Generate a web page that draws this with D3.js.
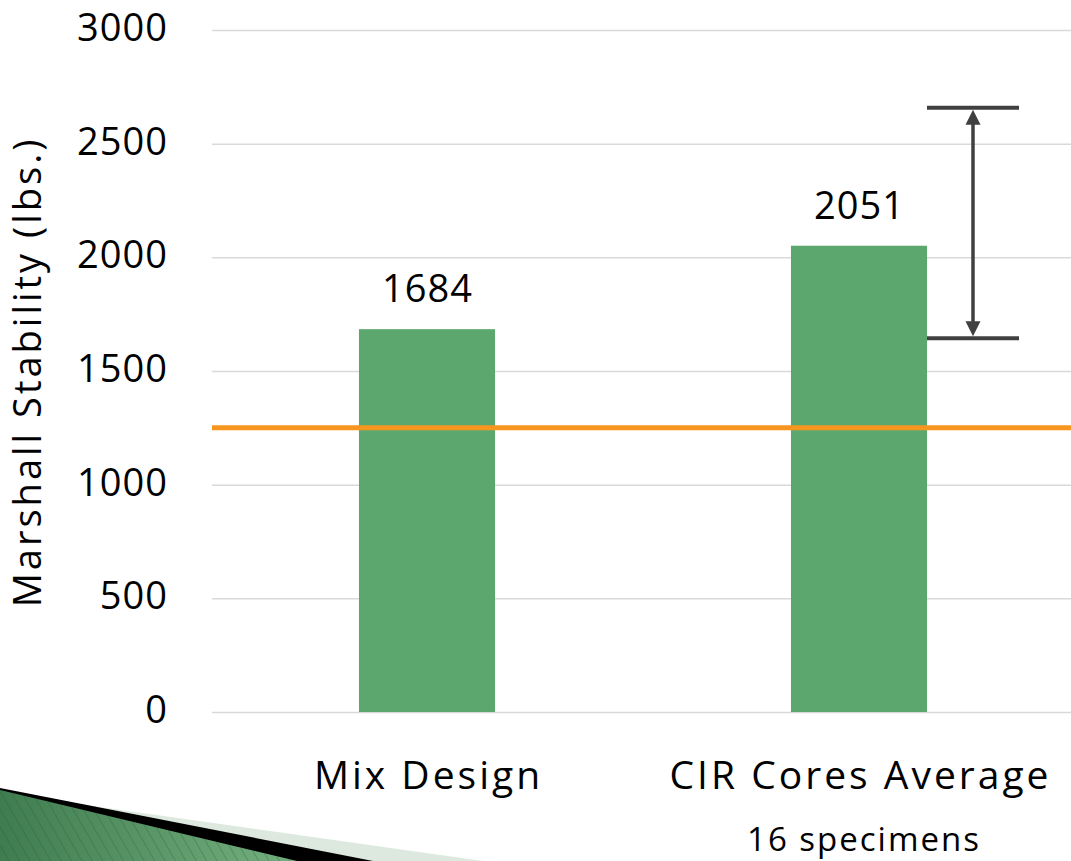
<!DOCTYPE html>
<html>
<head>
<meta charset="utf-8">
<script src="https://cdn.jsdelivr.net/npm/d3@7"></script>
<style>
  body { margin: 0; background: #fff; }
  svg { display: block; }
  text { font-family: "Open Sans", sans-serif; fill: #000; }
</style>
</head>
<body>
<svg id="chart" width="1071" height="861"></svg>
<script>
// Marshall stability: mix design vs. average of CIR field cores
const categories = ["Mix Design", "CIR Cores Average"];
const subLabels = ["", "16 specimens"];
const stability = [1684, 2051];
const rangeHigh = [null, 2658];
const rangeLow = [null, 1644];
const minimumRequired = 1250;
const yTicks = [0, 500, 1000, 1500, 2000, 2500, 3000];

const svg = d3.select("#chart");
const W = 1071, H = 861;

// ---- decorative swoosh in the lower-left corner ----
const defs = svg.append("defs");
const grad = defs.append("linearGradient").attr("id", "swooshGrad")
  .attr("x1", "0").attr("y1", "0").attr("x2", "1").attr("y2", "0");
grad.append("stop").attr("offset", "0").attr("stop-color", "#3f7c4f");
grad.append("stop").attr("offset", "1").attr("stop-color", "#74b07f");
const pat = defs.append("pattern").attr("id", "swooshStripes")
  .attr("patternUnits", "userSpaceOnUse").attr("width", 9).attr("height", 9)
  .attr("patternTransform", "rotate(-30)");
pat.append("rect").attr("width", 9).attr("height", 9).attr("fill", "none");
pat.append("line").attr("x1", 0).attr("y1", 0).attr("x2", 0).attr("y2", 9)
  .attr("stroke", "#2f5e3b").attr("stroke-opacity", 0.35).attr("stroke-width", 2);

const swoosh = svg.append("g");
swoosh.append("polygon").attr("points", `0,793 483,${H} 0,${H}`).attr("fill", "#dde9de");
swoosh.append("polygon").attr("points", `0,788 373,${H} 0,${H}`).attr("fill", "#000");
swoosh.append("polygon").attr("points", `0,790 297,${H} 0,${H}`).attr("fill", "url(#swooshGrad)");
swoosh.append("polygon").attr("points", `0,790 297,${H} 0,${H}`).attr("fill", "url(#swooshStripes)");

// ---- scales ----
const y = d3.scaleLinear().domain([0, 3000]).range([712, 30]);
const x = d3.scaleBand().domain(categories).range([211, 1075]).padding(0);
const barW = x.bandwidth() * 0.315;
const cx = c => x(c) + x.bandwidth() / 2;

// ---- gridlines and tick labels ----
const yAxis = d3.axisLeft(y).tickValues(yTicks).tickSize(-(W - 212)).tickPadding(44)
  .tickFormat(d3.format("d"));
const ga = svg.append("g").attr("transform", "translate(212,0)").call(yAxis);
ga.select(".domain").remove();
ga.selectAll(".tick line").attr("stroke", "#d9d9d9").attr("stroke-width", 1.5);
ga.selectAll(".tick text")
  .attr("font-family", "Open Sans, sans-serif")
  .attr("font-size", 38).attr("letter-spacing", 1).attr("fill", "#000")
  .attr("dy", "0.28em");

// ---- bars ----
const data = categories.map((c, i) => ({ c, v: stability[i], hi: rangeHigh[i], lo: rangeLow[i], sub: subLabels[i] }));
svg.append("g").selectAll("rect").data(data).join("rect")
  .attr("x", d => cx(d.c) - barW / 2)
  .attr("width", barW)
  .attr("y", d => y(d.v))
  .attr("height", d => y(0) - y(d.v))
  .attr("fill", "#5ba76d");

// value labels
svg.append("g").selectAll("text").data(data).join("text")
  .attr("x", d => cx(d.c) + 0.5)
  .attr("y", d => y(d.v) - 27)
  .attr("text-anchor", "middle")
  .attr("font-size", 38).attr("letter-spacing", 1)
  .text(d => d.v);

// ---- minimum requirement line ----
svg.append("line")
  .attr("x1", 212).attr("x2", W)
  .attr("y1", y(minimumRequired)).attr("y2", y(minimumRequired))
  .attr("stroke", "#f7961f").attr("stroke-width", 5);

// ---- specimen range (double-headed arrow between caps) ----
const rangeColor = "#404040";
data.filter(d => d.hi != null).forEach(d => {
  const ax = cx(d.c) + 114;
  const g = svg.append("g");
  [d.hi, d.lo].forEach(v => {
    g.append("line").attr("x1", ax - 46).attr("x2", ax + 46)
      .attr("y1", y(v)).attr("y2", y(v))
      .attr("stroke", rangeColor).attr("stroke-width", 4);
  });
  const top = y(d.hi) + 2, bot = y(d.lo) - 2;
  g.append("line").attr("x1", ax).attr("x2", ax)
    .attr("y1", top + 12).attr("y2", bot - 12)
    .attr("stroke", rangeColor).attr("stroke-width", 3.5);
  g.append("polygon").attr("points", `${ax},${top} ${ax - 7.5},${top + 15} ${ax + 7.5},${top + 15}`).attr("fill", rangeColor);
  g.append("polygon").attr("points", `${ax},${bot} ${ax - 7.5},${bot - 15} ${ax + 7.5},${bot - 15}`).attr("fill", rangeColor);
});

// ---- category labels ----
svg.append("g").selectAll("text").data(data).join("text")
  .attr("x", d => cx(d.c) + 1.5).attr("y", 789)
  .attr("text-anchor", "middle").attr("font-size", 39).attr("letter-spacing", 3)
  .text(d => d.c);
svg.append("g").selectAll("text").data(data.filter(d => d.sub)).join("text")
  .attr("x", d => cx(d.c) + 5).attr("y", 851)
  .attr("text-anchor", "middle").attr("font-size", 33).attr("letter-spacing", 2)
  .text(d => d.sub);

// ---- y-axis title ----
svg.append("text")
  .attr("transform", `translate(41,${(138 + 603) / 2 + 1.5}) rotate(-90)`)
  .attr("text-anchor", "middle").attr("font-size", 38).attr("letter-spacing", 3)
  .text("Marshall Stability (lbs.)");
</script>
</body>
</html>
